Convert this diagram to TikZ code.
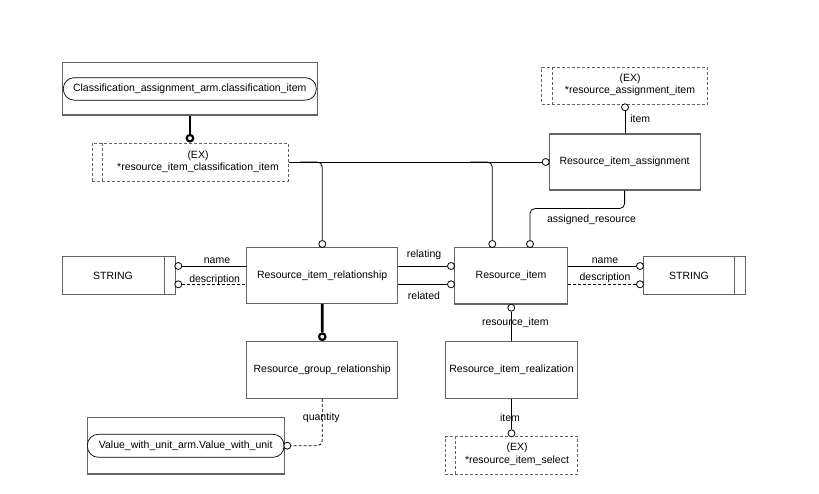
\documentclass[tikz,border=0pt]{standalone}
\usepackage{fontspec}
\setmainfont{Liberation Sans}
\usetikzlibrary{calc}
\definecolor{boxgray}{RGB}{100,100,100}
\begin{document}
\begin{tikzpicture}[x=1pt,y=-1pt,
  font=\fontsize{10.5}{12.5}\selectfont,
  ent/.style={draw=boxgray, line width=1.1pt, fill=white, inner sep=0pt, align=center},
  exbox/.style={draw=boxgray, line width=1pt, dash pattern=on 3pt off 2pt, fill=white, inner sep=0pt},
  exline/.style={draw=boxgray, line width=1pt, dash pattern=on 3pt off 2pt},
  boxline/.style={draw=boxgray, line width=1.1pt},
  rbox/.style={draw=black, line width=0.7pt, rounded corners=11pt, fill=white, inner sep=0pt},
  conn/.style={draw=black, line width=0.8pt},
  dconn/.style={draw=black, line width=0.8pt, dash pattern=on 3pt off 2pt},
  bconn/.style={draw=black, line width=2.6pt},
  scirc/.style={circle, draw=black, line width=0.8pt, fill=white, inner sep=0pt, minimum size=7pt},
  bcirc/.style={circle, draw=black, line width=2.2pt, fill=white, inner sep=0pt, minimum size=6.5pt},
  lbl/.style={inner sep=0pt, text=black},
  txt/.style={inner sep=0pt, align=center, text=black}]
\useasboundingbox (0,0) rectangle (819,493);
\fill[white] (0,0) rectangle (819,493);

% Classification box
\node[ent, minimum width=254.3pt, minimum height=52.3pt] (caout) at (190,88.8) {};
\node[rbox, minimum width=253pt, minimum height=22.5pt] (carnd) at (189.8,88.9) {Classification\_assignment\_arm.classification\_item};

% EX1
\node[exbox, minimum width=196pt, minimum height=38pt] (ex1) at (190,162) {};
\draw[exline] ($(ex1.north west)+(11pt,0)$) -- ($(ex1.south west)+(11pt,0)$);
\node[txt] (ex1t) at (198,161.7) {(EX)\\*resource\_item\_classification\_item};
\node[bcirc] (cb1) at (190,138.2) {};
\draw[bconn] (caout.south) -- (cb1.north);

% Resource_item_assignment
\node[ent, minimum width=151pt, minimum height=56pt] (ria) at (624.6,162) {Resource\_item\_assignment};
\node[exbox, minimum width=165.6pt, minimum height=36.7pt] (ex2) at (624.5,85.7) {};
\draw[exline] ($(ex2.north west)+(11pt,0)$) -- ($(ex2.south west)+(11pt,0)$);
\node[txt] (ex2t) at (630,84.8) {(EX)\\*resource\_assignment\_item};
\node[scirc] (cex2) at (625,107.3) {};
\draw[conn] (cex2.south) -- (cex2.south |- ria.north);
\node[lbl] (litem1) at (640.3,118.3) {item};

% Resource_item_relationship
\node[ent, minimum width=151pt, minimum height=56pt] (rir) at (322.2,275.3) {Resource\_item\_relationship};
% Resource_item
\node[ent, minimum width=113.4pt, minimum height=56.7pt] (ri) at (511,275.6) {Resource\_item};

% top circles
\node[scirc] (crirt) at (322.3,244) {};
\node[scirc] (crit1) at (492.3,244) {};
\node[scirc] (crit2) at (530,244) {};
\node[scirc] (cria) at (545.7,162) {};

% select connectors
\draw[conn] (ex1.east) -- (cria.west);
\draw[conn, rounded corners=5pt] (300,162) -| (crirt.north);
\draw[conn, rounded corners=5pt] (470,162) -| (crit1.north);
\draw[conn] (crirt.south) -- (crirt.south |- rir.north);
\draw[conn] (crit1.south) -- (crit1.south |- ri.north);
\draw[conn] (crit2.south) -- (crit2.south |- ri.north);
\draw[conn, rounded corners=5pt] (ria.south) -- ++(0,18) -| (crit2.north);
\node[lbl] (lassres) at (591.5,220) {assigned\_resource};

% STRING left
\node[ent, minimum width=113.4pt, minimum height=37.6pt] (strl) at (119,275.5) {};
\draw[boxline] ($(strl.north east)+(-11.4pt,0)$) -- ($(strl.south east)+(-11.4pt,0)$);
\node[txt] (strlt) at (113,275.5) {STRING};
\node[scirc] (csl1) at (178.3,266) {};
\node[scirc] (csl2) at (178.3,284.3) {};
\draw[conn] (csl1.east) -- (csl1.east -| rir.west);
\draw[dconn] (csl2.east) -- (csl2.east -| rir.west);
\node[lbl] (lname1) at (217,260.7) {name};
\node[lbl] (ldesc1) at (214.7,279.3) {description};

% relating / related
\node[scirc] (cril1) at (451,266) {};
\node[scirc] (cril2) at (451,284.3) {};
\draw[conn] (cril1.west -| rir.east) -- (cril1.west);
\draw[conn] (cril2.west -| rir.east) -- (cril2.west);
\node[lbl] (lrelating) at (424,254.3) {relating};
\node[lbl] (lrelated) at (424,295.7) {related};

% STRING right
\node[ent, minimum width=102.4pt, minimum height=37.6pt] (strr) at (694.5,275.5) {};
\draw[boxline] ($(strr.north east)+(-11.4pt,0)$) -- ($(strr.south east)+(-11.4pt,0)$);
\node[txt] (strrt) at (689,275.5) {STRING};
\node[scirc] (csr1) at (640,266) {};
\node[scirc] (csr2) at (640,284.3) {};
\draw[conn] (csr1.west -| ri.east) -- (csr1.west);
\draw[dconn] (csr2.west -| ri.east) -- (csr2.west);
\node[lbl] (lname2) at (605,260.7) {name};
\node[lbl] (ldesc2) at (605,277.3) {description};

% Resource_item_realization
\node[ent, minimum width=131.6pt, minimum height=56.6pt] (rirz) at (511.5,370) {Resource\_item\_realization};
\node[scirc] (crib) at (511.3,307.7) {};
\draw[conn] (crib.south) -- (crib.south |- rirz.north);
\node[lbl] (lresitem) at (515.3,322.3) {resource\_item};
\node[exbox, minimum width=132.7pt, minimum height=37.3pt] (ex3) at (511.35,455.35) {};
\draw[exline] ($(ex3.north west)+(11pt,0)$) -- ($(ex3.south west)+(11pt,0)$);
\node[txt] (ex3t) at (517,454.3) {(EX)\\*resource\_item\_select};
\node[scirc] (cex3) at (511.5,433.3) {};
\draw[conn] (cex3.north |- rirz.south) -- (cex3.north);
\node[lbl] (litem2) at (510,417.3) {item};

% Resource_group_relationship
\node[ent, minimum width=151pt, minimum height=56.6pt] (rgr) at (322.2,370) {Resource\_group\_relationship};
\node[bcirc] (cb2) at (322.3,336.7) {};
\draw[bconn] (rir.south) -- (cb2.north);

% Value_with_unit
\node[ent, minimum width=196.7pt, minimum height=56.3pt] (vwuout) at (185.7,445.85) {};
\node[rbox, minimum width=196.7pt, minimum height=23pt] (vwu) at (185.7,445.8) {Value\_with\_unit\_arm.Value\_with\_unit};
\node[scirc] (cvwu) at (287.3,445.7) {};
\draw[dconn, rounded corners=5pt] (rgr.south) |- (cvwu.east);
\node[lbl] (lqty) at (321.3,417.3) {quantity};
\end{tikzpicture}
\end{document}
